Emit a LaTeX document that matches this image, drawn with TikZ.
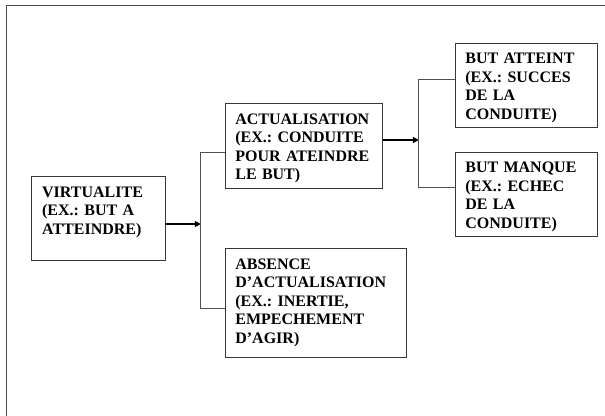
\documentclass[tikz,border=0pt]{standalone}
\usepackage{fontspec}
\setmainfont{Liberation Serif}
\frenchspacing
\definecolor{framegray}{HTML}{4A4A4A}
\definecolor{boxgray}{HTML}{383838}
\definecolor{linkgray}{HTML}{505050}
\usetikzlibrary{arrows.meta, positioning, calc}

\tikzset{
  etape/.style={draw=boxgray, line width=0.9pt, anchor=north west, align=left,
    inner xsep=10.4pt, inner ysep=9.7pt, text height=11pt, text depth=54pt,
    font=\fontsize{16}{18.5}\selectfont\bfseries},
  lien/.style={draw=linkgray, line width=0.9pt},
  fleche/.style={-{Triangle[length=6pt,width=6pt]}, black}
}

\begin{document}
\begin{tikzpicture}[x=1pt, y=-1pt]
        \useasboundingbox (0,0) rectangle (605,415);
        % Page frame (only top and left sides visible)
        \draw[framegray, line width=1.3pt] (6.7,5.5) rectangle (640,450);
        % Starting state
        \node[etape, text width=112.4pt, text depth=53.6pt] (virt) at (31.3,176)
          {VIRTUALITE\\(EX.: BUT A\\ATTEINDRE)};
        % Two outcomes of the virtual state
        \node[etape, text width=137pt] (actu) at (224.5,103.3)
          {ACTUALISATION\\(EX.: CONDUITE\\POUR ATEINDRE\\LE BUT)};
        \node[etape, text width=160.6pt, text depth=78pt] (absence) at (224.5,248.3)
          {ABSENCE\\D’ACTUALISATION\\(EX.: INERTIE,\\EMPECHEMENT\\D’AGIR)};
        % Two outcomes of the actualisation
        \node[etape, text width=121.7pt] (atteint) at (454.5,42.7)
          {BUT ATTEINT\\(EX.: SUCCES\\DE LA\\CONDUITE)};
        \node[etape, text width=121.7pt] (manque) at (454.5,151.7)
          {BUT MANQUE\\(EX.: ECHEC\\DE LA\\CONDUITE)};
        % First fork
        \coordinate (fourche1) at (200.8,224);
        \coordinate (haut1) at (200.8,152.3);
        \coordinate (bas1) at (200.8,308.3);
        \draw[fleche, line width=2.6pt] (virt.east |- fourche1) -- (fourche1);
        \draw[lien] (haut1 -| actu.west) -- (haut1) -- (bas1) -- (bas1 -| absence.west);
        % Second fork
        \coordinate (fourche2) at (418.9,140);
        \coordinate (haut2) at (418.9,79.3);
        \coordinate (bas2) at (418.9,187.7);
        \draw[fleche, line width=1.9pt] (actu.east |- fourche2) -- (fourche2);
        \draw[lien] (haut2 -| atteint.west) -- (haut2) -- (bas2) -- (bas2 -| manque.west);
      \end{tikzpicture}
\end{document}
